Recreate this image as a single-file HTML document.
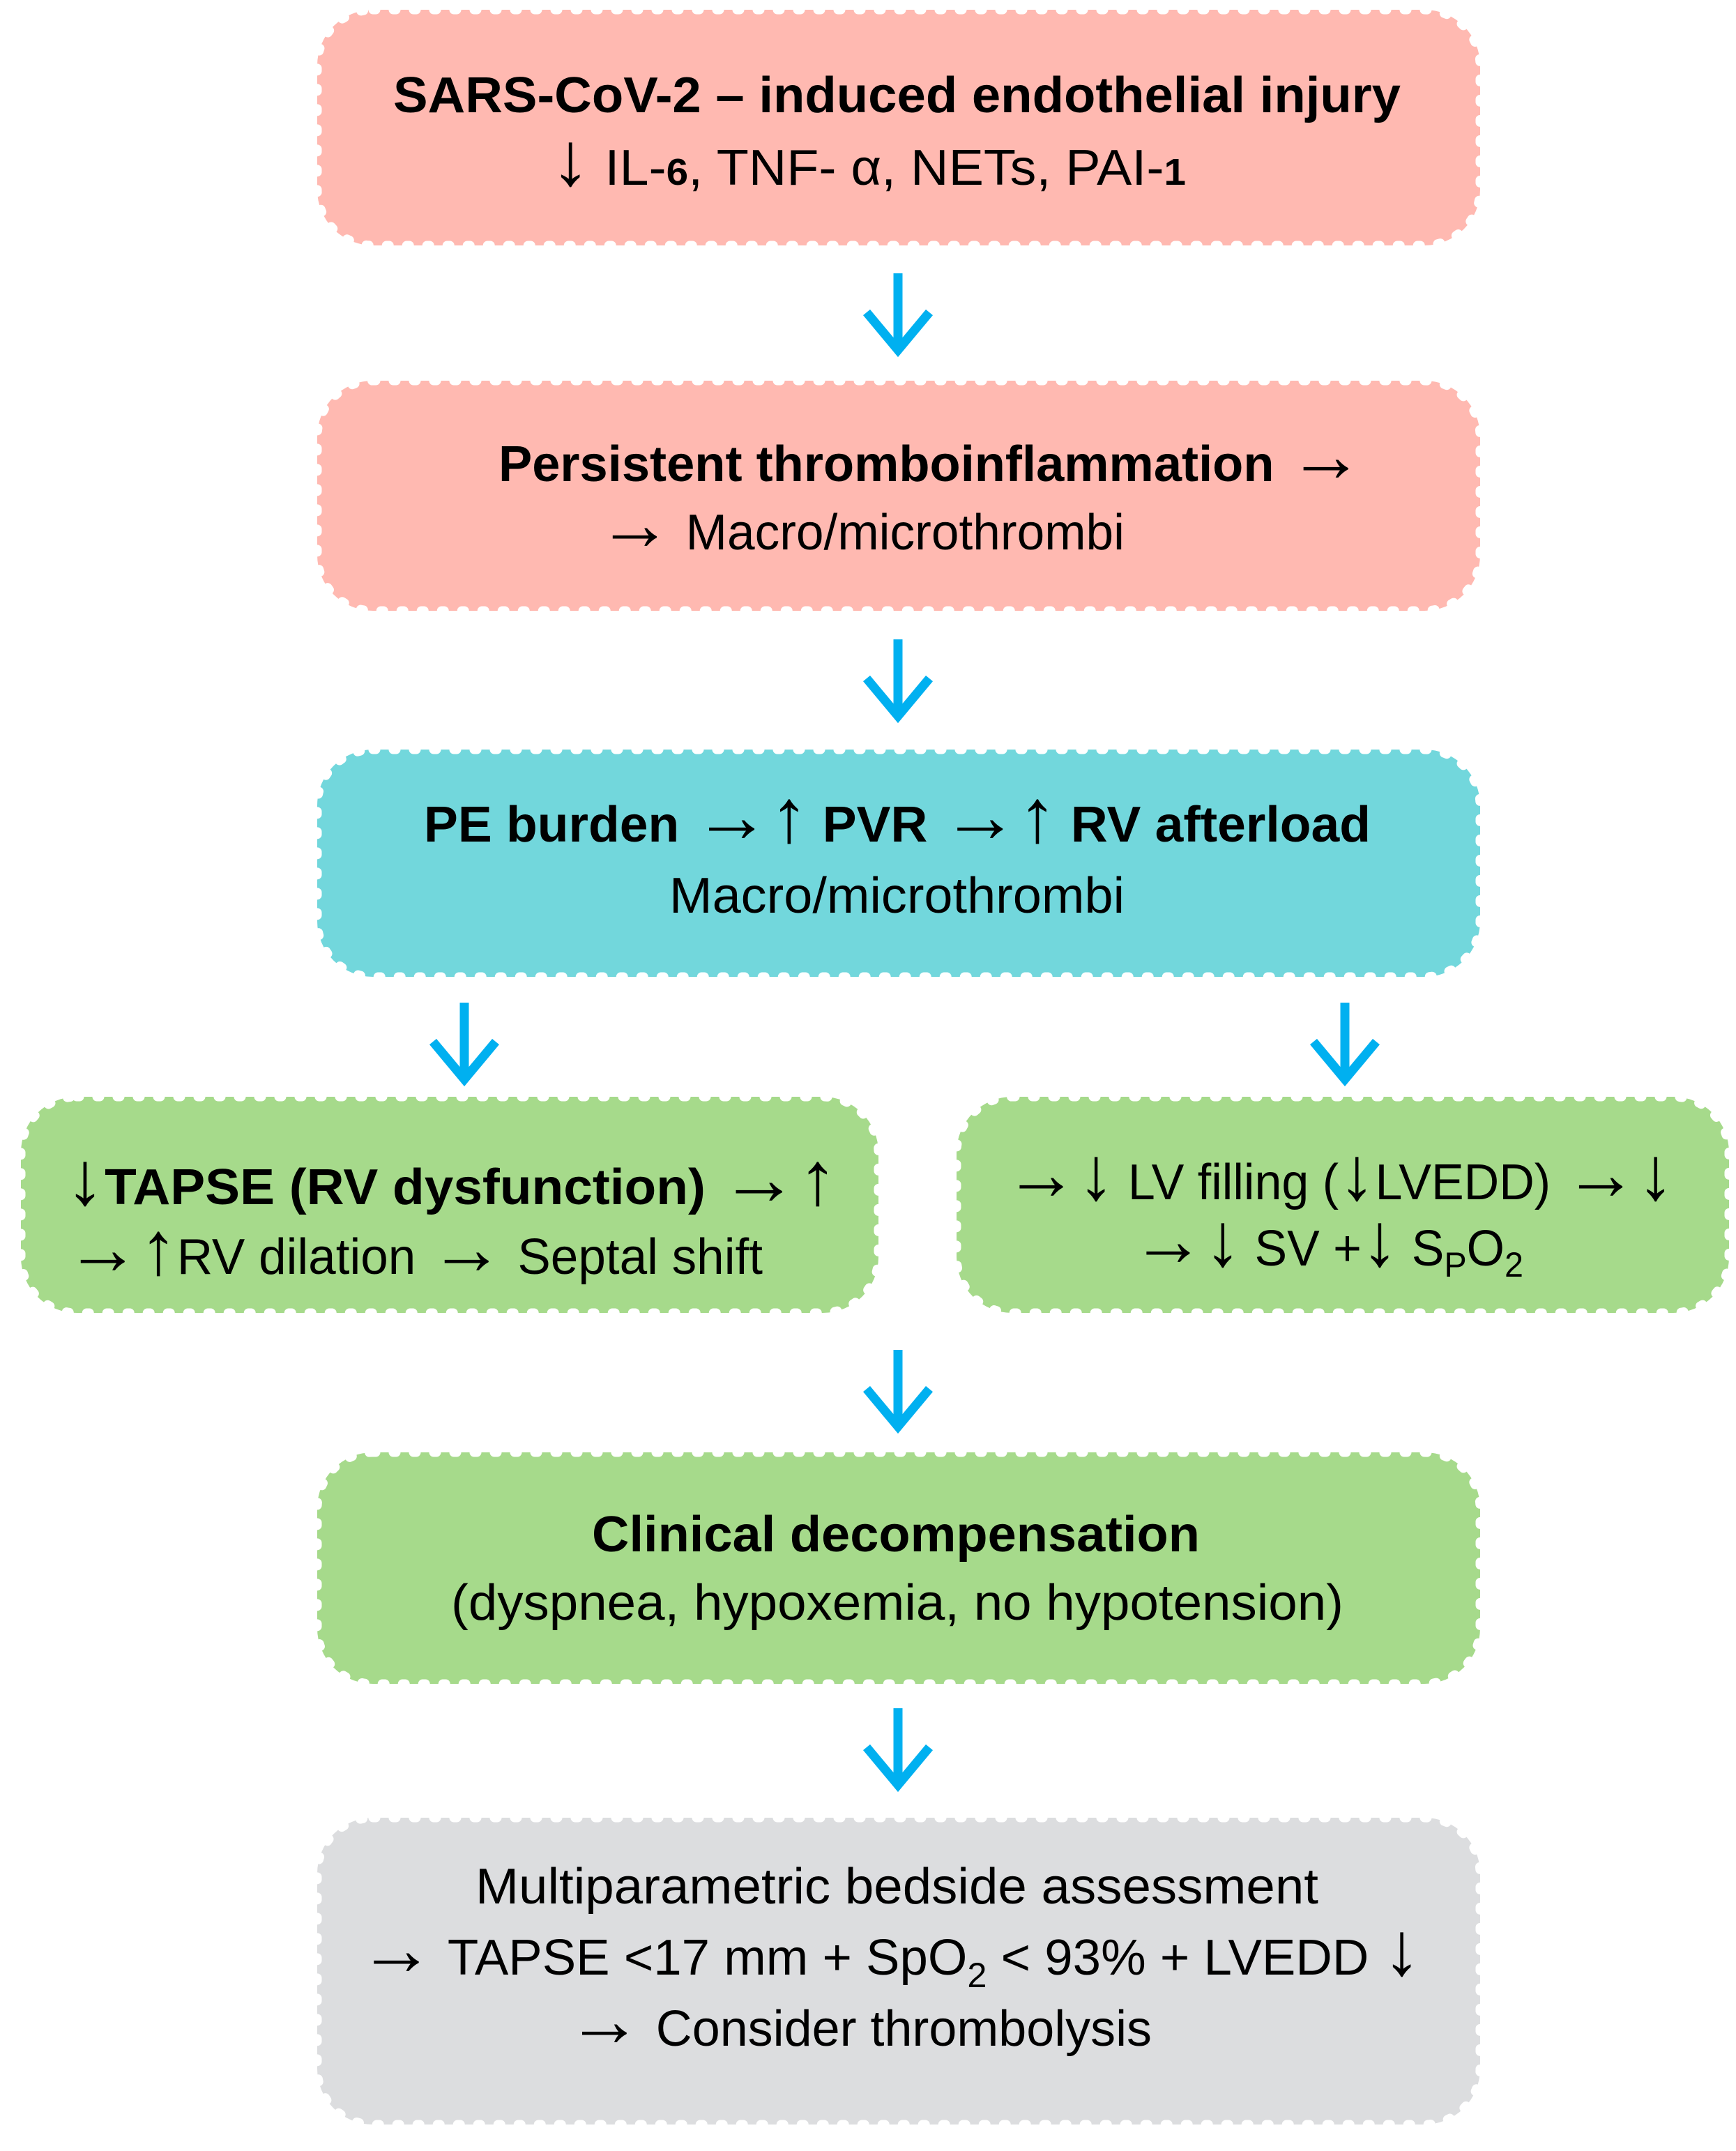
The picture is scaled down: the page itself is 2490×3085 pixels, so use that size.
<!DOCTYPE html>
<html><head><meta charset="utf-8"><style>
html,body{margin:0;padding:0;background:#fff}
svg{display:block}
text{font-family:"Liberation Sans",Arial,sans-serif;font-size:72px;fill:#000}
.b{font-weight:bold}
.a{font-size:108px;font-weight:normal}
</style></head><body>
<svg width="2490" height="3085" viewBox="0 0 2490 3085" xmlns="http://www.w3.org/2000/svg">
<g stroke="#fff" stroke-width="13" stroke-dasharray="4 25" stroke-linecap="round">
<rect x="455" y="14" width="1668" height="338" rx="80" fill="#ffb9b1"/>
<rect x="455" y="546" width="1668" height="330" rx="80" fill="#ffb9b1"/>
<rect x="455" y="1075" width="1668" height="326" rx="80" fill="#72d7dc"/>
<rect x="30" y="1573" width="1230" height="310" rx="80" fill="#a6da8b"/>
<rect x="1372" y="1573" width="1108" height="310" rx="80" fill="#a6da8b"/>
<rect x="455" y="2083" width="1668" height="332" rx="80" fill="#a6da8b"/>
<rect x="455" y="2607" width="1668" height="440" rx="80" fill="#dcdddf"/>
</g>
<g fill="none" stroke="#00b0f0" stroke-width="13" stroke-linejoin="miter">
<path d="M1288 392V500M1243 448L1288 502L1333 448"/>
<path d="M1288 392V500M1243 448L1288 502L1333 448" transform="translate(0,525)"/>
<path d="M1288 392V500M1243 448L1288 502L1333 448" transform="translate(-622,1046)"/>
<path d="M1288 392V500M1243 448L1288 502L1333 448" transform="translate(641,1046)"/>
<path d="M1288 392V500M1243 448L1288 502L1333 448" transform="translate(0,1544)"/>
<path d="M1288 392V500M1243 448L1288 502L1333 448" transform="translate(0,2058)"/>
</g>
<text class="b" x="564" y="161" textLength="1445" lengthAdjust="spacingAndGlyphs">SARS-CoV-2 – induced endothelial injury</text>
<text x="790" y="265" textLength="911" lengthAdjust="spacingAndGlyphs"><tspan class="a">↓</tspan> IL-<tspan class="b" font-size="54">6</tspan>, TNF- α, NETs, PAI-<tspan class="b" font-size="54">1</tspan></text>
<text class="b" x="715" y="690" textLength="1241" lengthAdjust="spacingAndGlyphs">Persistent thromboinflammation <tspan class="a">→</tspan></text>
<text x="857" y="788" textLength="756" lengthAdjust="spacingAndGlyphs"><tspan class="a">→</tspan>  Macro/microthrombi</text>
<text class="b" x="608" y="1207" textLength="1358" lengthAdjust="spacingAndGlyphs">PE burden <tspan class="a">→↑</tspan> PVR <tspan class="a">→↑</tspan> RV afterload</text>
<text x="960" y="1309" textLength="653" lengthAdjust="spacingAndGlyphs">Macro/microthrombi</text>
<text x="94" y="1727" textLength="1107" lengthAdjust="spacingAndGlyphs"><tspan class="a">↓</tspan><tspan class="b">TAPSE (RV dysfunction)</tspan> <tspan class="a">→↑</tspan></text>
<text x="94" y="1827" textLength="1000" lengthAdjust="spacingAndGlyphs"><tspan class="a">→↑</tspan>RV dilation <tspan class="a">→</tspan> Septal shift</text>
<text x="1441" y="1720" textLength="960" lengthAdjust="spacingAndGlyphs"><tspan class="a">→↓</tspan> LV filling (<tspan class="a">↓</tspan>LVEDD) <tspan class="a">→↓</tspan></text>
<text x="1623" y="1815" textLength="562" lengthAdjust="spacingAndGlyphs"><tspan class="a">→↓</tspan> SV +<tspan class="a">↓</tspan> S<tspan font-size="50" dy="16">P</tspan><tspan dy="-16">O</tspan><tspan font-size="50" dy="16">2</tspan></text>
<text class="b" x="849" y="2225" textLength="872" lengthAdjust="spacingAndGlyphs">Clinical decompensation</text>
<text x="647" y="2323" textLength="1280" lengthAdjust="spacingAndGlyphs">(dyspnea, hypoxemia, no hypotension)</text>
<text x="682" y="2730" textLength="1209" lengthAdjust="spacingAndGlyphs">Multiparametric bedside assessment</text>
<text x="514" y="2832" textLength="1524" lengthAdjust="spacingAndGlyphs"><tspan class="a">→</tspan>  TAPSE &lt;17 mm + SpO<tspan font-size="50" dy="18">2</tspan><tspan dy="-18"> &lt; 93% + LVEDD </tspan><tspan class="a">↓</tspan></text>
<text x="813" y="2934" textLength="839" lengthAdjust="spacingAndGlyphs"><tspan class="a">→</tspan>  Consider thrombolysis</text>
</svg>
</body></html>
